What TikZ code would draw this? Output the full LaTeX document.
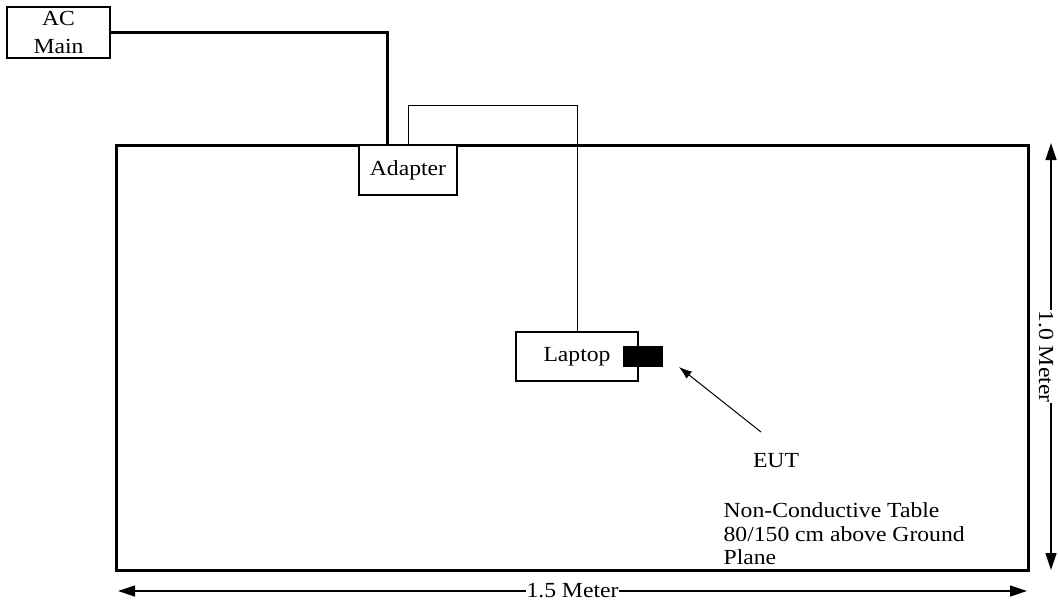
\documentclass[tikz,border=0pt]{standalone}
\usepackage{fontspec}
\setmainfont{Liberation Serif}[FakeStretch=1.1]
\usetikzlibrary{arrows.meta}

\begin{document}
\begin{tikzpicture}[x=1pt,y=-1pt,line width=1.3pt,>={Triangle[length=17pt,width=11pt]},
  txt/.style={font=\fontsize{21.5}{23.5}\selectfont},
  caja/.style={txt,draw,fill=white,inner sep=0pt,align=center},
  dim/.style={<->,line width=1.2pt},
  rotulo/.style={txt,fill=white,inner sep=1pt}]
  \useasboundingbox (0,0) rectangle (1058,603);
  % mesa
  \draw[line width=3pt] (116,145) rectangle (1028,570);
  % equipos
  \node[caja,minimum width=103,minimum height=51,font=\fontsize{21.5}{28}\selectfont] (acmain) at (58.5,32.5) {AC\\Main};
  \node[caja,minimum width=98,minimum height=50] (adapter) at (408,170) {Adapter};
  \node[caja,minimum width=122,minimum height=49] (laptop) at (577,356.5) {Laptop};
  \node[fill=black,minimum width=40,minimum height=21,inner sep=0pt] (eut) at (643,356.5) {};
  % cables
  \draw[line width=3pt] (acmain.east) -| ([xshift=29pt]adapter.north west);
  \draw[line width=0.9pt] ([xshift=50pt]adapter.north west) -- ++(0,-39) -| (laptop.north);
  % EUT
  \node[txt] (eutlabel) at (776,461) {EUT};
  \coordinate (eutfrom) at (761,432);
  \coordinate (euttip) at (679,367);
  \draw[-{Latex[length=13pt,width=9pt]},line width=1pt] (eutfrom) -- (euttip);
  \node[txt,anchor=north west,inner sep=0pt,align=left] (mesatxt) at (723,502)
    {Non-Conductive Table\\80/150 cm above Ground\\Plane};
  % cotas
  \coordinate (cotaL) at (118,591);
  \coordinate (cotaR) at (1027,591);
  \draw[dim] (cotaL) -- node[rotulo] (ancho) {1.5 Meter} (cotaR);
  \coordinate (cotaT) at (1051,143);
  \coordinate (cotaB) at (1051,570);
  \draw[dim] (cotaT) -- node[rotulo,xshift=-5pt,rotate=-90] (alto) {1.0 Meter} (cotaB);
\end{tikzpicture}
\end{document}
